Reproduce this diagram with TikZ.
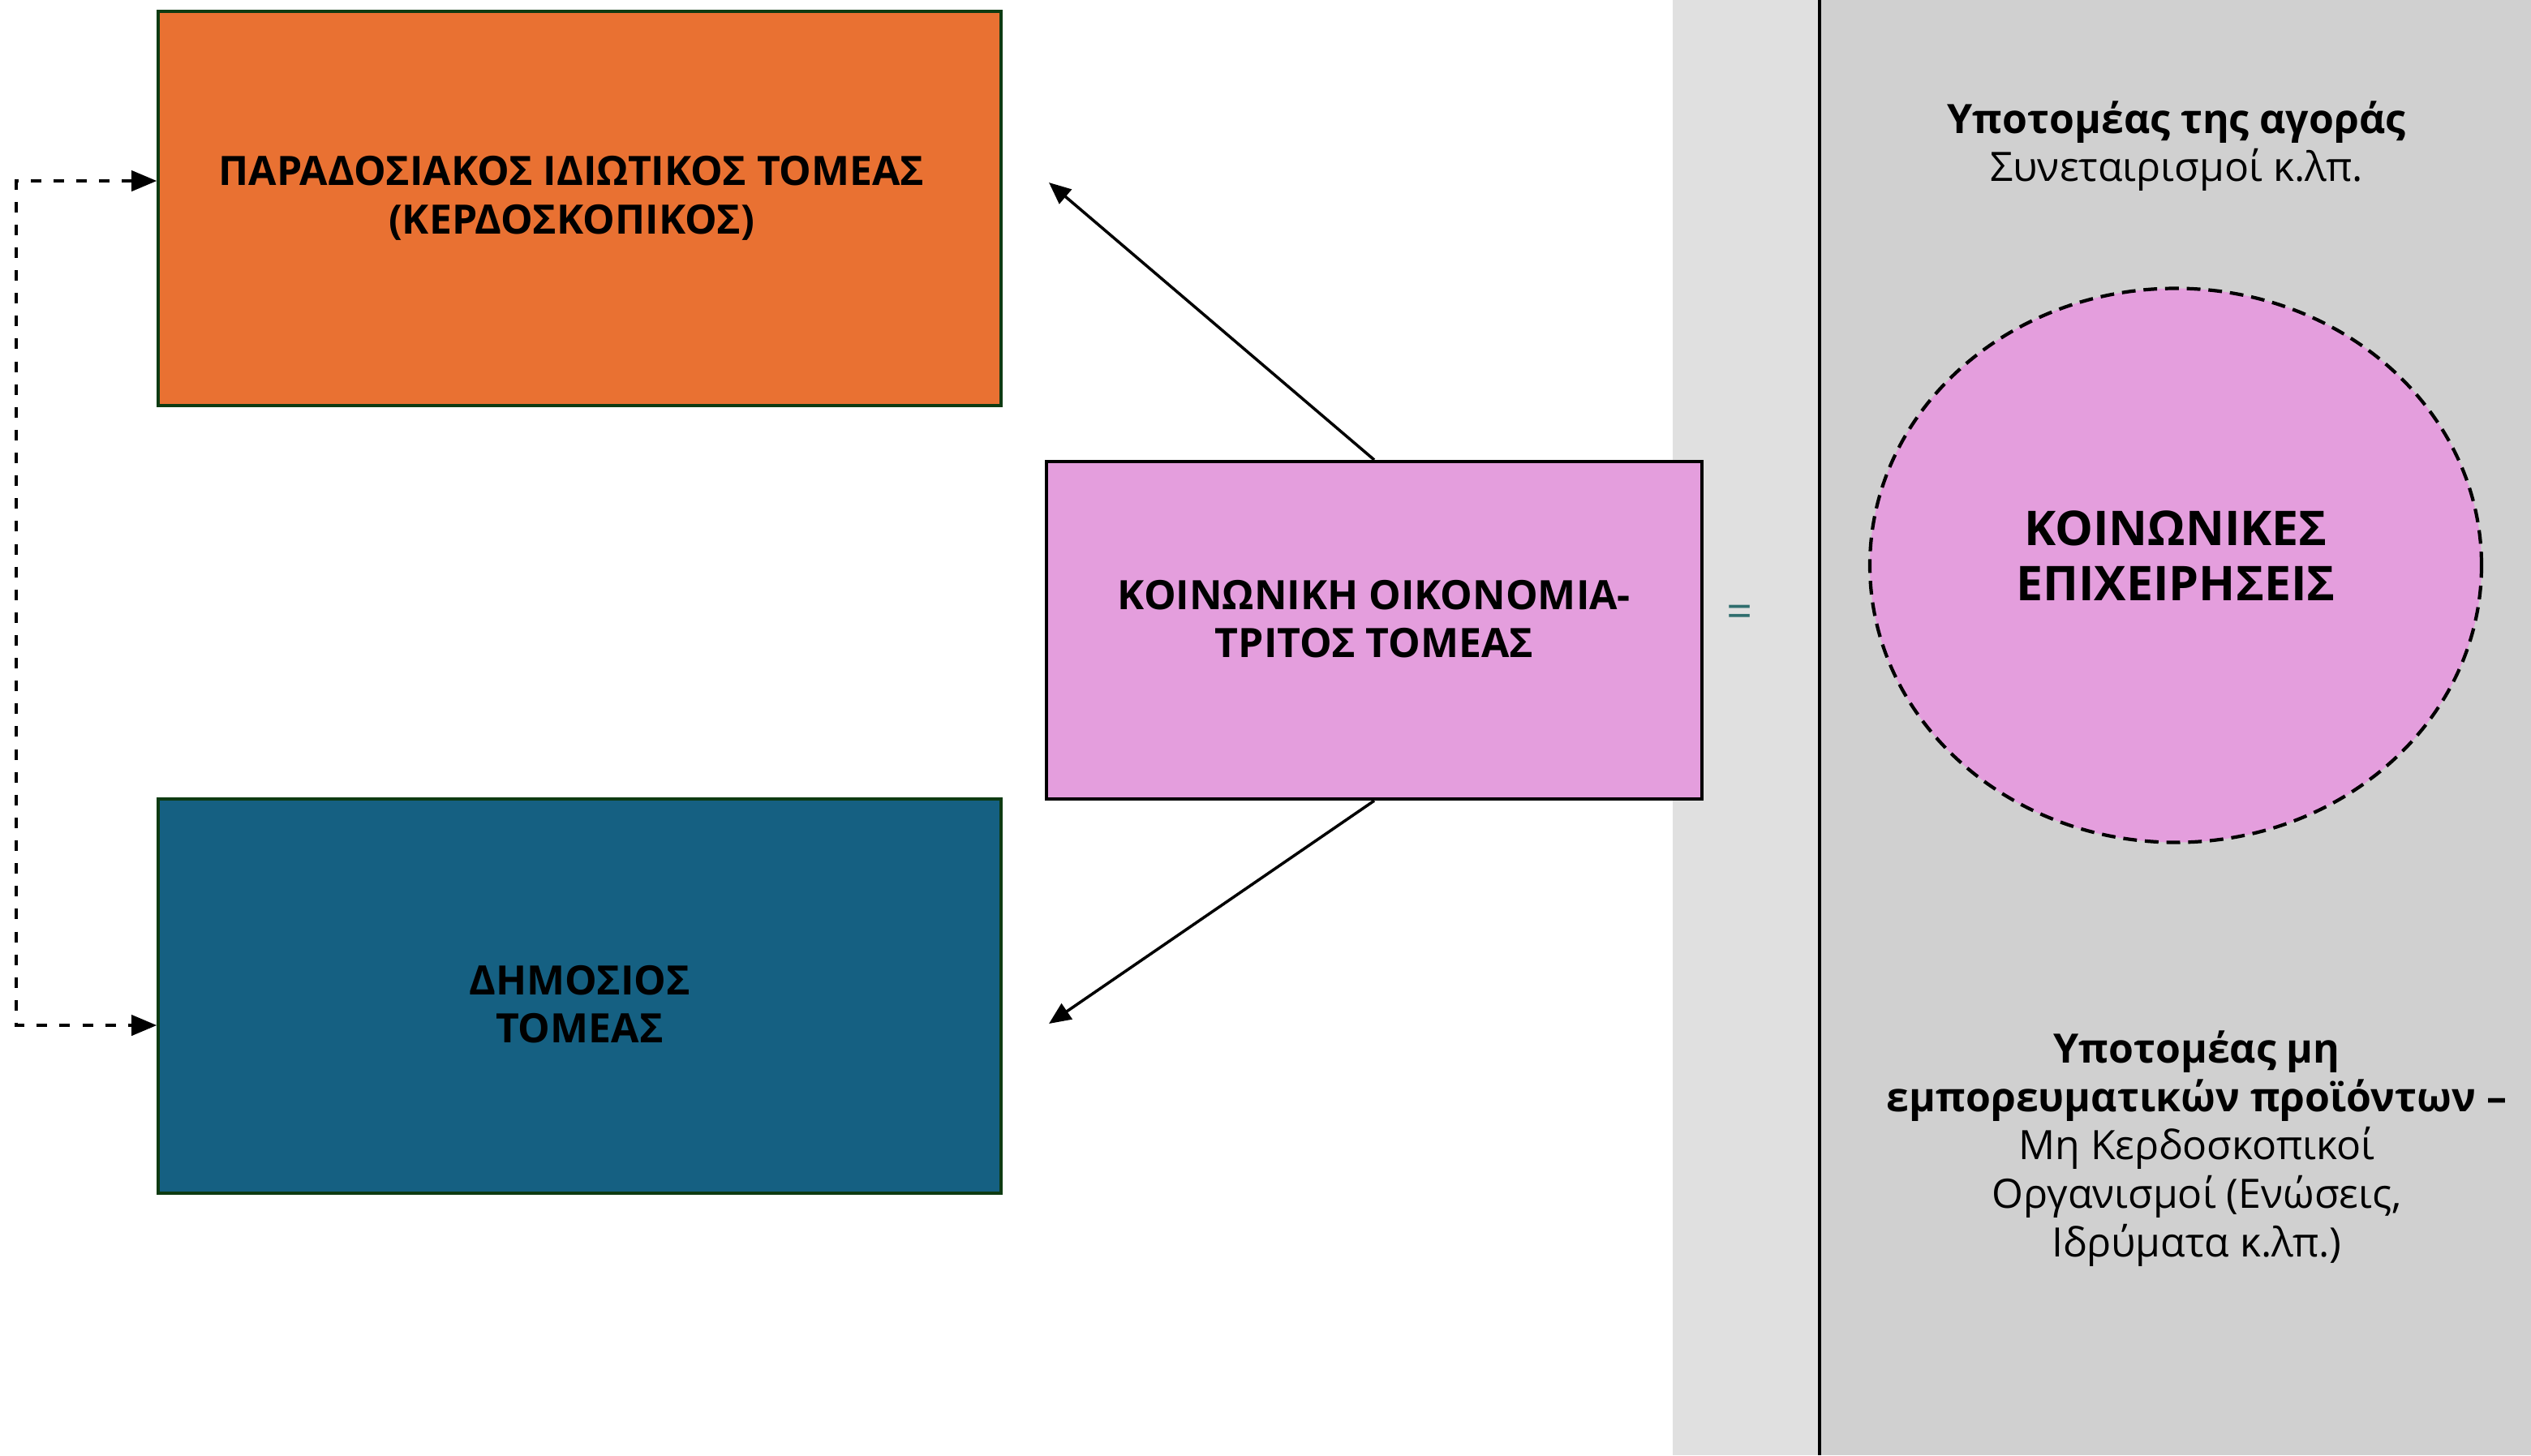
\documentclass[tikz,border=0pt]{standalone}
\usepackage{fontspec}
\setmainfont{Open Sans}
\usetikzlibrary{arrows.meta,calc,shapes.geometric}
\definecolor{privorange}{HTML}{E97132}
\definecolor{pubblue}{HTML}{156082}
\definecolor{socpink}{HTML}{E49EDD}
\definecolor{boxgreen}{HTML}{0E3B12}
\definecolor{bandgrey}{HTML}{E0E0E0}
\definecolor{panelgrey}{HTML}{D0D0D0}
\definecolor{eqteal}{HTML}{2F6E6E}
\begin{document}
\begin{tikzpicture}[
  sectorbox/.style={draw=boxgreen,line width=1pt,minimum width=10.39cm,minimum height=4.86cm,inner sep=0pt},
  socbox/.style={draw=black,line width=1.2pt,fill=socpink,minimum width=8.08cm,minimum height=4.16cm,inner sep=0pt},
  boxtext/.style={align=center,inner sep=0pt,font=\bfseries\fontsize{14.2}{17}\selectfont},
  paneltext/.style={align=center,font=\fontsize{14.2}{17}\selectfont},
  arrowconn/.style={line width=1pt,-{Triangle[length=0.27cm,width=0.23cm]}},
  dashconn/.style={line width=1.1pt,dash pattern=on 3.7pt off 4.3pt,
    {Triangle[length=0.31cm,width=0.25cm]}-{Triangle[length=0.31cm,width=0.25cm]}}
]
\useasboundingbox (0,0) rectangle (31.2,-17.94);
\fill[bandgrey] (20.62,0) rectangle (22.43,-17.94);
\fill[panelgrey] (22.43,0) rectangle (31.2,-17.94);
\draw[line width=0.9pt] (22.43,0) -- (22.43,-17.94);

\node[sectorbox,fill=privorange] (priv) at (7.145,-2.57) {};
\node[boxtext] (privtext) at ([xshift=-0.1cm,yshift=0.13cm]priv.center) {ΠΑΡΑΔΟΣΙΑΚΟΣ ΙΔΙΩΤΙΚΟΣ ΤΟΜΕΑΣ\\(ΚΕΡΔΟΣΚΟΠΙΚΟΣ)};
\node[sectorbox,fill=pubblue] (pub) at (7.145,-12.28) {};
\node[boxtext] (pubtext) at ([yshift=-0.10cm]pub.center) {ΔΗΜΟΣΙΟΣ\\ΤΟΜΕΑΣ};
\node[socbox] (soc) at (16.94,-7.77) {};
\node[boxtext] (soctext) at ([yshift=0.14cm]soc.center) {ΚΟΙΝΩΝΙΚΗ ΟΙΚΟΝΟΜΙΑ-\\ΤΡΙΤΟΣ ΤΟΜΕΑΣ};
\node[text=eqteal,font=\fontsize{16}{17}\selectfont] (equals) at (21.45,-7.60) {=};
\node[ellipse,draw=black,line width=1.2pt,dash pattern=on 4.8pt off 2.8pt,fill=socpink,
  minimum width=7.54cm,minimum height=6.83cm,inner sep=0pt] (socent) at (26.82,-6.97) {};
\node[boxtext,font=\bfseries\fontsize{16.8}{19.4}\selectfont] (socenttext) at ([yshift=0.12cm]socent.center) {ΚΟΙΝΩΝΙΚΕΣ\\ΕΠΙΧΕΙΡΗΣΕΙΣ};
\node[paneltext] (market) at (26.83,-1.8) {\textbf{Υποτομέας της αγοράς}\\Συνεταιρισμοί κ.λπ.};
\node[paneltext] (nonmarket) at (27.08,-14.16) {\textbf{Υποτομέας μη}\\\textbf{εμπορευματικών προϊόντων –}\\Μη Κερδοσκοπικοί\\Οργανισμοί (Ενώσεις,\\Ιδρύματα κ.λπ.)};

\coordinate (privtip) at (12.93,-2.25);
\coordinate (pubtip) at (12.93,-12.62);
\draw[arrowconn] (soc.north) -- (privtip);
\draw[arrowconn] (soc.south) -- (pubtip);
\draw[dashconn] ([yshift=0.34cm]priv.west) -- ++(-1.73,0) |- ([yshift=-0.36cm]pub.west);
\end{tikzpicture}
\end{document}
